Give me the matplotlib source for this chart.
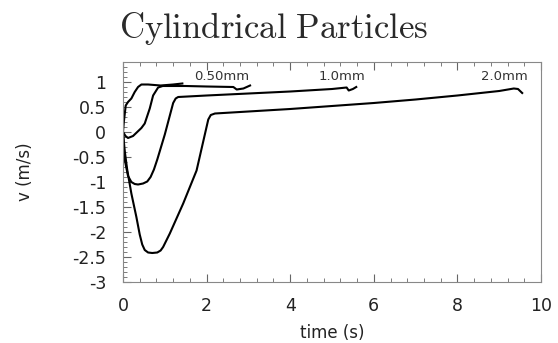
import numpy as np
import matplotlib
matplotlib.use("Agg")
import matplotlib.pyplot as plt
from matplotlib.ticker import MultipleLocator

plt.rcParams['mathtext.fontset'] = 'cm'

# curve for the smallest particle (no label)
t_a = [0, 0.02, 0.065, 0.12, 0.2, 0.28, 0.36, 0.44, 0.6, 0.9, 1.2, 1.42]
v_a = [0, 0.2, 0.53, 0.6, 0.67, 0.8, 0.9, 0.95, 0.95, 0.93, 0.95, 0.97]

# 0.50mm
t_b = [0, 0.06, 0.12, 0.24, 0.44, 0.52, 0.64, 0.72, 0.84, 0.95, 1.5, 2.0, 2.64, 2.72, 2.88, 3.04]
v_b = [0, -0.08, -0.12, -0.08, 0.08, 0.17, 0.47, 0.73, 0.89, 0.92, 0.92, 0.91, 0.9, 0.85, 0.87, 0.93]

# 1.0mm
t_c = [0, 0.04, 0.12, 0.2, 0.28, 0.36, 0.48, 0.58, 0.66, 0.74, 0.82, 1.0, 1.2, 1.26, 1.32,
       2, 3, 4, 5, 5.35, 5.4, 5.5, 5.58]
v_c = [0, -0.55, -0.88, -1.0, -1.04, -1.05, -1.03, -0.99, -0.9, -0.75, -0.55, -0.05, 0.58, 0.67, 0.7,
       0.73, 0.77, 0.81, 0.86, 0.89, 0.83, 0.86, 0.9]

# 2.0mm
t_d = [0, 0.04, 0.1, 0.2, 0.32, 0.4, 0.46, 0.52, 0.6, 0.7, 0.82, 0.9, 0.96, 1.12, 1.44, 1.76,
       2.04, 2.1, 2.2, 3, 4, 5, 6, 7, 8, 9, 9.35, 9.45, 9.55]
v_d = [0, -0.37, -0.75, -1.23, -1.7, -2.05, -2.25, -2.36, -2.41, -2.42, -2.41, -2.37, -2.3, -2.03, -1.43, -0.77,
       0.25, 0.34, 0.37, 0.41, 0.46, 0.52, 0.58, 0.65, 0.73, 0.82, 0.87, 0.86, 0.78]

labels = ["0.50mm", "1.0mm", "2.0mm"]
label_t = [2.37, 5.24, 9.12]
label_v = [1.12, 1.12, 1.1]

fig = plt.figure(figsize=(5.58, 3.43), dpi=100)
ax = fig.add_axes([123/558, 1 - 282/343, 418/558, 220/343])

for t, v in [(t_a, v_a), (t_b, v_b), (t_c, v_c), (t_d, v_d)]:
    ax.plot(t, v, color='black', lw=1.5)

for lab, x, y in zip(labels, label_t, label_v):
    ax.text(x, y, lab, ha='center', va='center', fontsize=9.5, color='#333333')

ax.set_xlim(0, 10)
ax.set_ylim(-3, 1.4)
ax.set_xticks([0, 2, 4, 6, 8, 10])
ax.set_yticks([1, 0.5, 0, -0.5, -1, -1.5, -2, -2.5, -3])
ax.set_yticklabels(['1', '0.5', '0', '-0.5', '-1', '-1.5', '-2', '-2.5', '-3'])
ax.xaxis.set_minor_locator(MultipleLocator(0.4))
ax.yaxis.set_minor_locator(MultipleLocator(0.1))
ax.tick_params(which='both', direction='in', top=True, right=False, color='#666666',
               labelsize=12.5, labelcolor='#222222')
ax.tick_params(which='major', length=6)
ax.tick_params(which='minor', length=3)
ax.tick_params(axis='y', pad=12)
ax.tick_params(axis='x', pad=11)
for s in ax.spines.values():
    s.set_color('#888888')

ax.set_xlabel('time (s)', fontsize=12, color='#222222')
ax.set_ylabel('v (m/s)', fontsize=12, color='#222222')
ax.xaxis.set_label_coords(0.5, -0.19)
ax.yaxis.set_label_coords(-0.213, 0.5)
fig.text(0.491, 0.918, r'$\mathrm{Cylindrical\ Particles}$', ha='center', va='center',
         fontsize=25, color='#2a2a2a')

fig.savefig('out.png', dpi=100)
